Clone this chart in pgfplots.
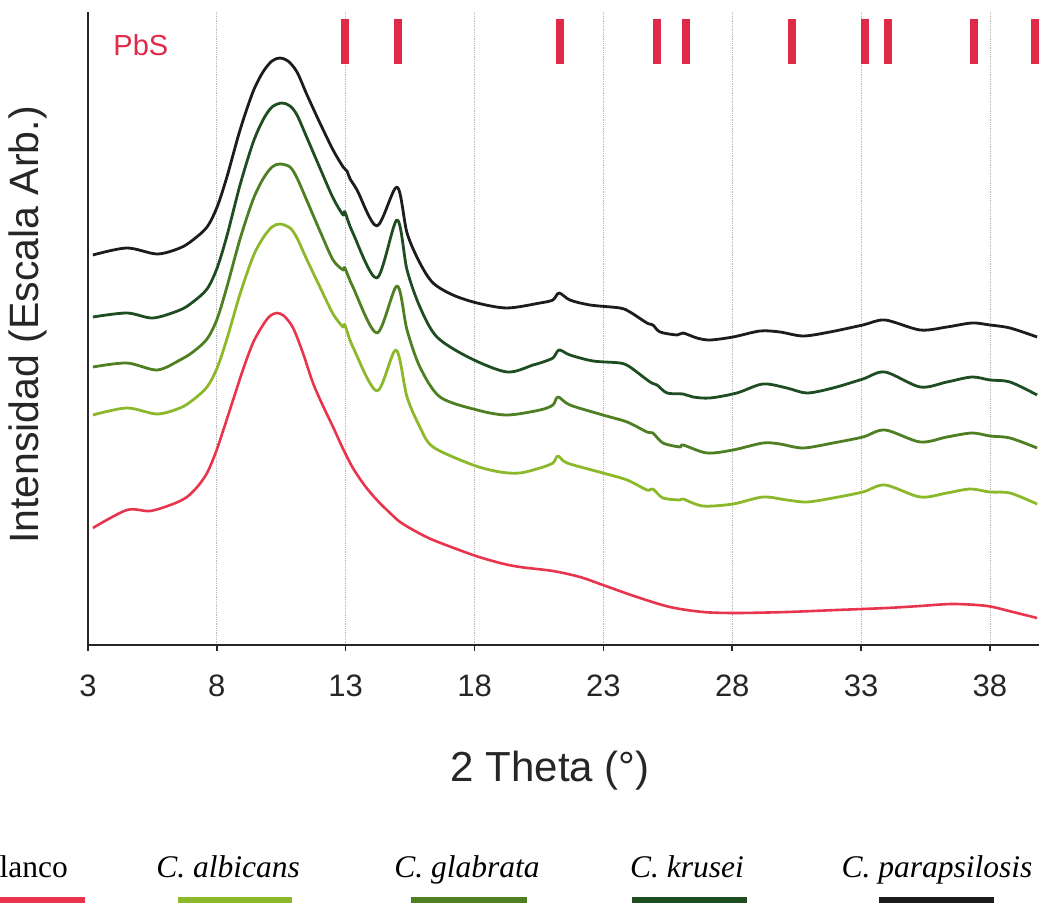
\documentclass[border=0pt]{standalone}
\usepackage{fontspec}
\setmainfont{Liberation Sans}
\newfontfamily\legfont{Liberation Serif}
\usepackage{pgfplots}
\pgfplotsset{compat=1.18}
\definecolor{cblanco}{HTML}{E8344C}
\definecolor{cpbs}{HTML}{E02A48}
\definecolor{calb}{HTML}{8CB82B}
\definecolor{cgla}{HTML}{4E7F22}
\definecolor{ckru}{HTML}{1F4D22}
\definecolor{cpar}{HTML}{1C1C1C}
\begin{document}
\begin{tikzpicture}
\path[use as bounding box] (0pt,0pt) rectangle (1039pt,907pt);
\clip (0pt,0pt) rectangle (1039pt,907pt);
\begin{axis}[
  at={(88pt,262pt)}, anchor=south west,
  scale only axis, width=950.9pt, height=633pt,
  xmin=3, xmax=39.9, ymin=0, ymax=633,
  axis x line*=bottom, axis y line*=left,
  axis line style={line width=2.5pt, black!85, -},
  xtick={3,8,...,38}, ytick=\empty,
  tick align=outside, major tick length=6pt,
  tick style={line width=1.5pt, black!85},
  /pgf/number format/assume math mode=true,
  xticklabel style={font=\fontsize{31}{36}\selectfont, text=black!85, yshift=-20pt},
  xmajorgrids,
  grid style={gray!55, line width=0.8pt, densely dotted},
  xlabel={2 Theta (°)},
  xlabel style={at={(axis description cs:0.486,-0.199)}, anchor=center, font=\fontsize{42}{48}\selectfont, text=black!85},
  ylabel={Intensidad (Escala Arb.)},
  ylabel style={at={(axis description cs:-0.0631,0.5055)}, anchor=center, font=\fontsize{41}{46}\selectfont, text=black!85},
  every axis plot/.append style={smooth, tension=0.5, line join=round},
]
% PbS reference bars
\addplot[cpbs, line width=8pt, no markers, sharp plot, unbounded coords=jump] coordinates {
(12.97,581) (12.97,626) (nan,nan)
(15.03,581) (15.03,626) (nan,nan)
(21.32,581) (21.32,626) (nan,nan)
(25.08,581) (25.08,626) (nan,nan)
(26.20,581) (26.20,626) (nan,nan)
(30.33,581) (30.33,626) (nan,nan)
(33.15,581) (33.15,626) (nan,nan)
(34.06,581) (34.06,626) (nan,nan)
(37.39,581) (37.39,626) (nan,nan)
(39.75,581) (39.75,626)
};
\node[anchor=west, text=cpbs, font=\fontsize{29}{34}\selectfont] at (axis cs:3.85,600) {PbS};
% Blanco
\addplot[cblanco, line width=2.6pt, no markers] coordinates {
(3.19,117)(4.51,135)(5.41,134)(6.30,141)(6.84,148)(7.27,159)(7.62,172)(7.95,192)(8.24,214)(8.63,245)(9.01,275)(9.40,302)(9.79,320)(10.06,329)(10.33,332)(10.61,329)(10.96,317)(11.34,292)(11.73,262)(12.12,239)(12.51,218)(12.90,196)(13.28,177)(13.75,159)(14.21,145)(14.72,132)(15.11,123)(15.69,114)(16.39,105)(17.94,90)(18.99,82)(19.76,78)(21.04,74)(22.09,68)(22.98,60)(24.30,48)(25.58,38)(26.86,33)(28.18,32)(30.12,33)(32.06,35)(34.00,37)(35.29,39)(36.57,41)(37.89,39)(38.89,33)(39.83,27)
};
% C. albicans
\addplot[calb, line width=2.8pt, no markers] coordinates {
(3.19,230)(4.51,237)(5.68,231)(6.57,237)(7.07,245)(7.62,258)(8.01,277)(8.39,306)(8.90,351)(9.40,388)(9.79,407)(10.14,418)(10.45,421)(10.84,417)(11.11,407)(11.50,385)(12.00,358)(12.51,331)(12.90,318)(12.97,320)(13.28,298)(14.21,254)(14.95,295)(15.38,248)(15.88,218)(16.39,198)(17.94,180)(18.99,173)(19.76,172)(20.54,177)(21.04,182)(21.24,189)(21.59,182)(22.98,172)(23.92,165)(24.69,155)(24.92,156)(25.31,147)(25.97,145)(26.09,146)(26.86,139)(28.03,141)(29.19,148)(30.12,145)(30.90,143)(31.91,147)(33.07,153)(33.93,160)(35.29,148)(36.33,152)(37.23,156)(38.00,153)(38.78,152)(39.83,141)
};
% C. glabrata
\addplot[cgla, line width=2.8pt, no markers] coordinates {
(3.19,278)(4.51,282)(5.68,275)(6.57,285)(7.07,293)(7.62,306)(8.01,326)(8.39,358)(8.90,406)(9.40,445)(9.79,466)(10.14,478)(10.45,481)(10.84,478)(11.11,467)(11.50,444)(12.00,414)(12.51,385)(12.90,375)(12.97,377)(13.28,358)(14.21,312)(14.99,359)(15.38,315)(15.88,278)(16.66,248)(18.10,235)(19.26,230)(20.54,235)(21.04,240)(21.24,248)(21.70,240)(22.98,230)(23.92,223)(24.69,213)(24.92,212)(25.31,202)(25.97,198)(26.09,200)(27.02,192)(28.03,195)(29.19,202)(29.85,201)(30.75,197)(31.91,202)(33.07,208)(33.93,215)(35.29,203)(36.33,208)(37.30,212)(38.00,209)(38.78,207)(39.83,197)
};
% C. krusei
\addplot[ckru, line width=2.8pt, no markers] coordinates {
(3.19,328)(4.51,332)(5.52,327)(6.57,335)(7.07,343)(7.62,356)(8.01,377)(8.39,409)(8.90,460)(9.40,502)(9.79,525)(10.14,538)(10.53,542)(10.84,539)(11.11,530)(11.50,507)(12.00,477)(12.51,447)(12.90,430)(12.97,433)(13.28,412)(14.21,367)(14.99,425)(15.38,375)(15.88,338)(16.54,308)(17.82,287)(19.26,273)(20.27,280)(20.54,282)(21.04,287)(21.28,295)(21.70,290)(22.60,284)(23.64,282)(24.03,278)(24.81,263)(25.08,260)(25.47,252)(26.09,251)(26.48,248)(27.14,247)(28.18,252)(29.19,261)(30.12,257)(30.90,252)(31.91,257)(33.07,266)(33.93,273)(35.29,258)(36.33,263)(37.30,268)(38.00,265)(38.78,263)(39.83,250)
};
% C. parapsilosis
\addplot[cpar, line width=2.8pt, no markers] coordinates {
(3.19,390)(4.51,397)(5.68,391)(6.57,397)(7.07,405)(7.62,418)(8.01,438)(8.39,468)(8.90,515)(9.40,553)(9.79,573)(10.14,584)(10.45,587)(10.76,584)(11.11,573)(11.50,550)(12.00,522)(12.51,495)(12.90,478)(13.05,474)(13.17,466)(13.44,455)(14.21,419)(14.99,458)(15.38,412)(15.88,382)(16.39,362)(17.16,350)(18.10,342)(19.26,337)(20.54,342)(21.04,345)(21.28,352)(21.70,345)(22.48,340)(23.64,337)(24.03,333)(24.69,322)(24.92,320)(25.20,313)(25.86,310)(26.09,312)(26.63,307)(27.14,305)(28.03,308)(29.08,314)(29.85,313)(30.75,309)(31.79,313)(33.07,320)(33.93,325)(35.29,315)(36.33,318)(37.30,322)(38.00,320)(38.78,317)(39.83,308)
};
\end{axis}
% legend
\node[anchor=base east, inner sep=0pt, font=\legfont\fontsize{31.5}{36}\selectfont] at (68pt,29pt) {Blanco};
\node[anchor=base, inner sep=0pt, font=\legfont\itshape\fontsize{31.5}{36}\selectfont] at (228pt,29pt) {C. albicans};
\node[anchor=base, inner sep=0pt, font=\legfont\itshape\fontsize{31.5}{36}\selectfont] at (467pt,29pt) {C. glabrata};
\node[anchor=base, inner sep=0pt, font=\legfont\itshape\fontsize{31.5}{36}\selectfont] at (687pt,29pt) {C. krusei};
\node[anchor=base, inner sep=0pt, font=\legfont\itshape\fontsize{31.5}{36}\selectfont] at (937pt,29pt) {C. parapsilosis};
\draw[cblanco, line width=5.5pt] (0pt,7pt) -- (85pt,7pt);
\draw[calb, line width=5.5pt] (178pt,7pt) -- (292pt,7pt);
\draw[cgla, line width=5.5pt] (411pt,7pt) -- (527pt,7pt);
\draw[ckru, line width=5.5pt] (632pt,7pt) -- (747pt,7pt);
\draw[cpar, line width=5.5pt] (879pt,7pt) -- (994pt,7pt);
\end{tikzpicture}
\end{document}
